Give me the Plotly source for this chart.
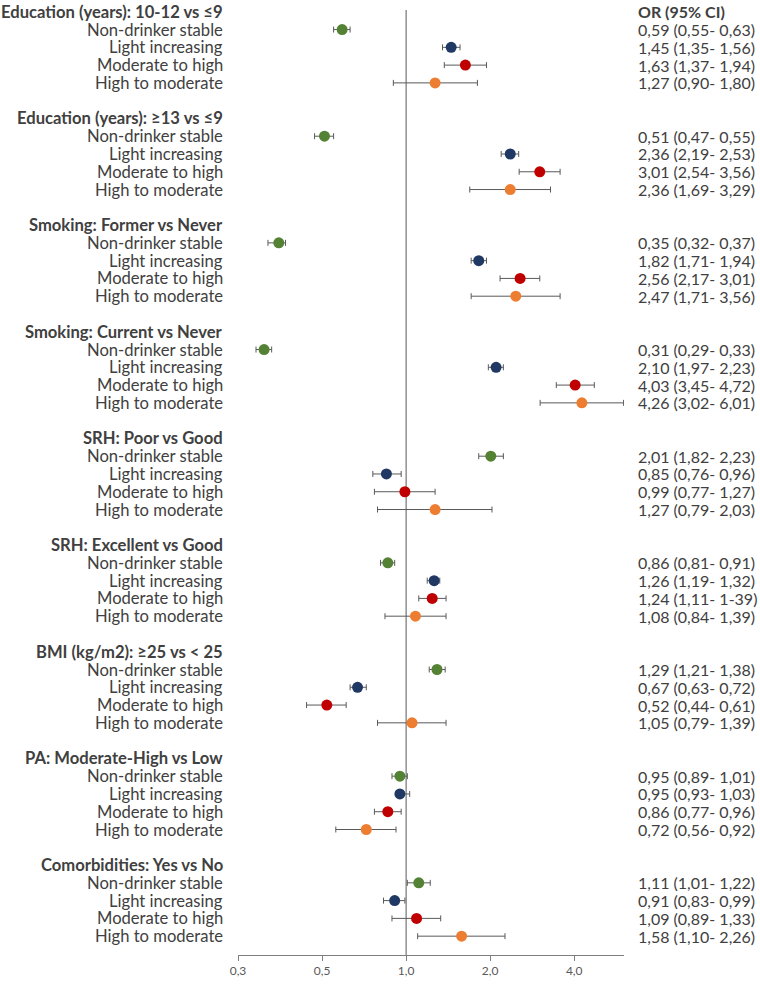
"""Forest plot: odds ratios (95% CI) of alcohol trajectory groups by covariate."""

import plotly.graph_objects as go

# ---------------------------------------------------------------------------
# Data
# ---------------------------------------------------------------------------

groups = [
    "Education (years): 10-12 vs ≤9",
    "Education (years): ≥13 vs ≤9",
    "Smoking: Former vs Never",
    "Smoking: Current vs Never",
    "SRH: Poor vs Good",
    "SRH: Excellent vs Good",
    "BMI (kg/m2): ≥25 vs < 25",
    "PA: Moderate-High vs Low",
    "Comorbidities: Yes vs No",
]
trajectories = ["Non-drinker stable", "Light increasing", "Moderate to high", "High to moderate"]
colors = ["#548235", "#1F3864", "#C00000", "#ED7D31"]

# one list per group, ordered as in `trajectories`
odds_ratio = [
    [0.59, 1.45, 1.63, 1.27],
    [0.51, 2.36, 3.01, 2.36],
    [0.35, 1.82, 2.56, 2.47],
    [0.31, 2.10, 4.03, 4.26],
    [2.01, 0.85, 0.99, 1.27],
    [0.86, 1.26, 1.24, 1.08],
    [1.29, 0.67, 0.52, 1.05],
    [0.95, 0.95, 0.86, 0.72],
    [1.11, 0.91, 1.09, 1.58],
]
ci_low = [
    [0.55, 1.35, 1.37, 0.90],
    [0.47, 2.19, 2.54, 1.69],
    [0.32, 1.71, 2.17, 1.71],
    [0.29, 1.97, 3.45, 3.02],
    [1.82, 0.76, 0.77, 0.79],
    [0.81, 1.19, 1.11, 0.84],
    [1.21, 0.63, 0.44, 0.79],
    [0.89, 0.93, 0.77, 0.56],
    [1.01, 0.83, 0.89, 1.10],
]
ci_high = [
    [0.63, 1.56, 1.94, 1.80],
    [0.55, 2.53, 3.56, 3.29],
    [0.37, 1.94, 3.01, 3.56],
    [0.33, 2.23, 4.72, 6.01],
    [2.23, 0.96, 1.27, 2.03],
    [0.91, 1.32, 1.39, 1.39],
    [1.38, 0.72, 0.61, 1.39],
    [1.01, 1.03, 0.96, 0.92],
    [1.22, 0.99, 1.33, 2.26],
]

tick_vals = [0.25, 0.5, 1, 2, 4]
tick_text = ["0,3", "0,5", "1,0", "2,0", "4,0"]


def fmt(v):
    return f"{v:.2f}".replace(".", ",")


# ---------------------------------------------------------------------------
# Figure
# ---------------------------------------------------------------------------

TEXT = "#404040"
FONT = "Lato"
LABEL_SIZE = 16.6
OR_SIZE = 16
ROWS_PER_GROUP = 6  # header + 4 rows + blank

fig = go.Figure()
annotations = []


def label(text, row):
    return dict(x=0, y=row, xref="paper", yref="y", xanchor="right", xshift=-13,
                text=text, showarrow=False, font=dict(size=LABEL_SIZE, color=TEXT, family=FONT))


def or_label(text, row):
    return dict(x=1, y=row, xref="paper", yref="y", xanchor="left", xshift=12,
                text=text, showarrow=False, font=dict(size=OR_SIZE, color=TEXT, family=FONT))


for g, title in enumerate(groups):
    base = g * ROWS_PER_GROUP
    annotations.append(label(f"<b>{title}</b>", base))
    for k, name in enumerate(trajectories):
        row = base + 1 + k
        orv, lo, hi = odds_ratio[g][k], ci_low[g][k], ci_high[g][k]
        fig.add_trace(go.Scatter(
            x=[orv], y=[row], mode="markers",
            marker=dict(color=colors[k], size=11, line=dict(width=0)),
            error_x=dict(type="data", symmetric=False, array=[hi - orv], arrayminus=[orv - lo],
                         color="#595959", thickness=1, width=3),
            showlegend=False, hoverinfo="skip",
        ))
        annotations.append(label(name, row))
        # the source table has one typo ("1-39") which is kept as printed
        hi_txt = "1-39" if (g, k) == (5, 2) else fmt(hi)
        annotations.append(or_label(f"{fmt(orv)} ({fmt(lo)}- {hi_txt})", row))

annotations.append(or_label("<b>OR (95% CI)</b>", 0))

last_row = len(groups) * ROWS_PER_GROUP - 2  # no blank row after the last group

fig.add_shape(type="line", xref="x", yref="paper", x0=1, x1=1, y0=0, y1=1,
              line=dict(color="#595959", width=1), layer="below")

fig.update_layout(
    width=760,
    height=988,
    margin=dict(l=238, r=136, t=10, b=25),
    plot_bgcolor="white",
    paper_bgcolor="white",
    annotations=annotations,
    xaxis=dict(
        type="log",
        range=[-0.60206, 0.7803],
        tickvals=tick_vals,
        ticktext=tick_text,
        showgrid=False,
        zeroline=False,
        showline=True,
        linecolor="#7f7f7f",
        ticks="outside",
        ticklen=5,
        tickcolor="#7f7f7f",
        tickfont=dict(size=12, color="#595959", family=FONT),
    ),
    yaxis=dict(
        range=[last_row + 1.06, -0.1],
        visible=False,
        showgrid=False,
        zeroline=False,
    ),
)

# the text runs right up to the page edges, so drop the browser's default body margin
fig.write_html(
    "out.html",
    config={"displayModeBar": False},
    post_script="document.body.style.margin = '0';",
)
